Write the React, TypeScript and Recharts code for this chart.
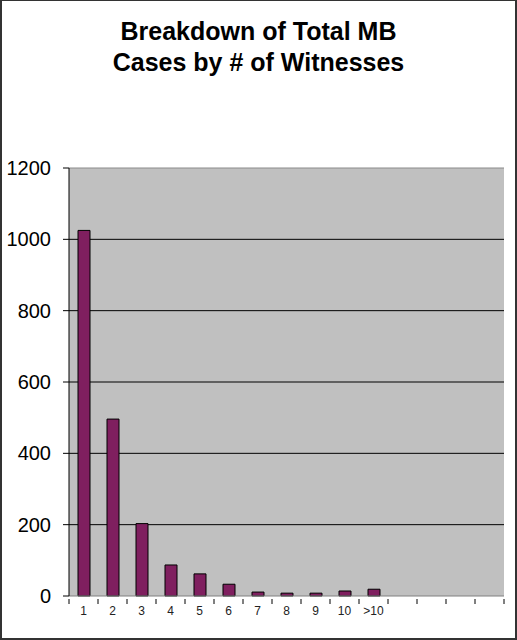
import React from "react";
import { BarChart, Bar, XAxis, YAxis, CartesianGrid, ReferenceLine } from "recharts";

const categories = ["1", "2", "3", "4", "5", "6", "7", "8", "9", "10", ">10", "", "", "", ""];
const cases = [1025, 496, 203, 87, 62, 33, 11, 8, 8, 14, 19, null, null, null, null];
const yTicks = [0, 200, 400, 600, 800, 1000, 1200];

const data = categories.map((label, i) => ({ label, cases: cases[i] }));

const FONT = '"Liberation Sans", Arial, sans-serif';
const SLOT = 29;

function CategoryTick(props: any) {
  const { x, y, payload, index } = props;
  const last = index === categories.length - 1;
  return (
    <g>
      <line x1={x - SLOT / 2} x2={x - SLOT / 2} y1={y - 5} y2={y} stroke="#000" />
      {last && <line x1={x + SLOT / 2} x2={x + SLOT / 2} y1={y - 5} y2={y} stroke="#000" />}
      <text x={x} y={y + 11} textAnchor="middle" fontSize={12} fill="#222" fontFamily={FONT}>
        {payload.value}
      </text>
    </g>
  );
}

export default function App() {
  return (
    <div
      style={{
        position: "absolute",
        left: 0,
        top: 0,
        width: 517,
        height: 640,
        boxSizing: "border-box",
        borderTop: "1px solid #333",
        borderLeft: "2px solid #333",
        borderRight: "2px solid #333",
        borderBottom: "2px solid #333",
        background: "#fff",
        overflow: "hidden",
      }}
    >
      <div
        style={{
          position: "absolute",
          left: -2,
          top: 15,
          width: 517,
          textAlign: "center",
          fontFamily: FONT,
          fontWeight: "bold",
          fontSize: 25,
          lineHeight: "31px",
          color: "#000",
        }}
      >
        Breakdown of Total MB
        <br />
        Cases by # of Witnesses
      </div>
      <div style={{ position: "absolute", left: -2, top: -1 }}>
        <BarChart
          width={517}
          height={640}
          data={data}
          margin={{ top: 168, right: 13, left: 0, bottom: 14 }}
          barCategoryGap={0}
        >
          <CartesianGrid
            vertical={false}
            fill="#C0C0C0"
            stroke="#000"
            horizontalValues={[200, 400, 600, 800, 1000]}
          />
          <ReferenceLine y={1200} stroke="#8a8a8a" />
          <XAxis
            dataKey="label"
            height={30}
            axisLine={{ stroke: "#808080" }}
            tickLine={false}
            tick={<CategoryTick />}
            interval={0}
          />
          <YAxis
            width={69}
            domain={[0, 1200]}
            ticks={yTicks}
            interval={0}
            axisLine={{ stroke: "#000" }}
            tickLine={{ stroke: "#000" }}
            tickSize={6}
            tickMargin={12}
            tick={{ fontSize: 20, fill: "#000", fontFamily: FONT }}
          />
          <Bar
            dataKey="cases"
            fill="#7F1F5F"
            stroke="#000"
            strokeWidth={1}
            barSize={12}
            isAnimationActive={false}
          />
        </BarChart>
      </div>
    </div>
  );
}
